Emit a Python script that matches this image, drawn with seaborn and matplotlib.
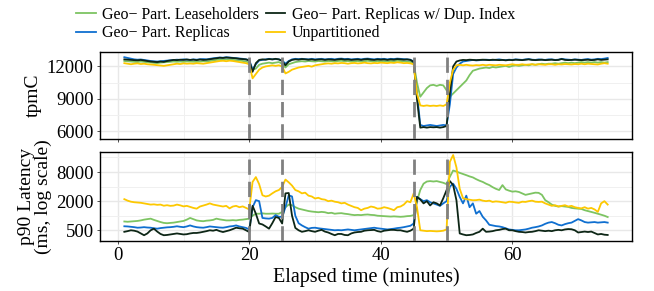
import numpy as np
import pandas as pd
import seaborn as sns
import matplotlib.pyplot as plt
from matplotlib.ticker import FixedLocator, NullFormatter

# --- series names and colours ---
setups = ["Geo\u2212 Part. Leaseholders", "Geo\u2212 Part. Replicas",
          "Geo\u2212 Part. Replicas w/ Dup. Index", "Unpartitioned"]
colors = ["#7dc462", "#0f6fd0", "#0d2616", "#fdc800"]

# --- elapsed time (minutes), one sample every 30 s ---
time_min = np.arange(1, 75, 0.5)

# --- throughput (tpmC) ---
tpmc_leaseholders = [
    12500, 12480, 12450, 12420, 12400, 12450, 12420, 12380, 12350, 12320,
    12300, 12350, 12380, 12400, 12420, 12450, 12430, 12450, 12420, 12460,
    12450, 12430, 12420, 12450, 12480, 12460, 12500, 12550, 12600, 12620,
    12600, 12650, 12620, 12600, 12580, 12550, 12500, 12450, 12350, 11700,
    11800, 12150, 12250, 12300, 12350, 12300, 12350, 12400, 12250, 11900,
    12200, 12300, 12400, 12450, 12480, 12450, 12500, 12480, 12450, 12500,
    12480, 12450, 12500, 12480, 12450, 12500, 12520, 12480, 12500, 12450,
    12480, 12500, 12450, 12480, 12520, 12480, 12450, 12500, 12480, 12500,
    12450, 12500, 12480, 12520, 12500, 12480, 12450, 12420, 12300, 10500,
    9200, 9600, 10000, 10250, 10300, 10200, 10300, 10250, 9800, 9200,
    9500, 9800, 10100, 10400, 10700, 11200, 11600, 11700, 11800, 11850,
    11900, 11850, 11950, 11900, 11950, 12000, 12050, 11950, 12050, 12100,
    12050, 12100, 12150, 12100, 12200, 12150, 12200, 12250, 12200, 12250,
    12250, 12300, 12250, 12300, 12350, 12300, 12350, 12300, 12350, 12400,
    12350, 12400, 12350, 12400, 12350, 12400, 12350, 12400]
tpmc_replicas = [
    12850, 12780, 12700, 12650, 12620, 12640, 12600, 12550, 12500, 12480,
    12450, 12480, 12500, 12550, 12580, 12600, 12620, 12600, 12650, 12620,
    12600, 12650, 12620, 12660, 12680, 12650, 12700, 12750, 12780, 12820,
    12800, 12850, 12820, 12780, 12760, 12720, 12700, 12650, 12580, 11700,
    12200, 12550, 12600, 12650, 12700, 12650, 12680, 12650, 12550, 12250,
    12500, 12650, 12700, 12680, 12700, 12680, 12650, 12700, 12650, 12680,
    12700, 12650, 12680, 12700, 12650, 12700, 12720, 12680, 12700, 12650,
    12680, 12700, 12650, 12700, 12720, 12680, 12650, 12700, 12680, 12700,
    12650, 12700, 12680, 12720, 12700, 12680, 12650, 12620, 12450, 9500,
    6600, 6500, 6550, 6600, 6550, 6500, 6550, 6600, 6550, 8500,
    11300, 11900, 12250, 12450, 12500, 12550, 12600, 12550, 12580, 12600,
    12620, 12600, 12580, 12620, 12650, 12600, 12580, 12620, 12600, 12650,
    12620, 12600, 12650, 12680, 12620, 12600, 12650, 12620, 12600, 12650,
    12650, 12600, 12620, 12700, 12650, 12620, 12600, 12650, 12620, 12600,
    12650, 12680, 12620, 12650, 12700, 12680, 12720, 12780]
tpmc_dup_index = [
    12650, 12620, 12600, 12580, 12560, 12600, 12550, 12500, 12450, 12420,
    12400, 12450, 12420, 12500, 12550, 12600, 12580, 12620, 12600, 12640,
    12600, 12620, 12580, 12640, 12600, 12620, 12660, 12700, 12750, 12800,
    12780, 12820, 12800, 12780, 12750, 12700, 12680, 12650, 12550, 11500,
    12300, 12600, 12650, 12620, 12680, 12650, 12700, 12650, 12500, 12100,
    12450, 12600, 12650, 12620, 12680, 12650, 12620, 12650, 12600, 12640,
    12650, 12600, 12650, 12620, 12600, 12650, 12680, 12620, 12650, 12600,
    12620, 12650, 12600, 12650, 12680, 12620, 12600, 12650, 12620, 12650,
    12600, 12650, 12620, 12680, 12650, 12620, 12650, 12600, 12400, 9000,
    6350, 6400, 6350, 6400, 6380, 6400, 6350, 6400, 6500, 9500,
    12000, 12450, 12550, 12600, 12580, 12620, 12600, 12580, 12600, 12620,
    12600, 12580, 12620, 12600, 12580, 12600, 12560, 12600, 12580, 12620,
    12600, 12580, 12620, 12650, 12600, 12580, 12600, 12620, 12580, 12600,
    12620, 12580, 12600, 12680, 12600, 12580, 12600, 12620, 12600, 12580,
    12600, 12620, 12580, 12600, 12650, 12600, 12620, 12650]
tpmc_unpartitioned = [
    12300, 12250, 12200, 12250, 12280, 12220, 12250, 12200, 12180, 12150,
    12120, 12080, 12050, 12100, 12150, 12200, 12250, 12220, 12280, 12250,
    12270, 12250, 12300, 12280, 12250, 12300, 12350, 12400, 12450, 12500,
    12520, 12480, 12530, 12500, 12450, 12400, 12350, 12300, 12200, 10900,
    11300, 11700, 11900, 12000, 12050, 12100, 12050, 12100, 12000, 11350,
    11500, 11700, 11800, 11900, 11950, 12000, 12050, 11980, 12100, 12150,
    12200, 12250, 12280, 12250, 12300, 12280, 12320, 12300, 12250, 12300,
    12320, 12280, 12300, 12350, 12300, 12280, 12320, 12300, 12350, 12320,
    12300, 12350, 12320, 12380, 12350, 12300, 12320, 12280, 12200, 9500,
    8400, 8350, 8400, 8350, 8380, 8350, 8400, 8350, 8500, 10500,
    11700, 12100, 12150, 12100, 12150, 12100, 12080, 12120, 12100, 12150,
    12100, 12150, 12120, 12100, 12150, 12120, 12100, 12150, 12200, 12150,
    12150, 12200, 12150, 12180, 12200, 12150, 12200, 12180, 12150, 12200,
    12200, 12150, 12200, 12180, 12220, 12200, 12180, 12220, 12200, 12250,
    12200, 12250, 12220, 12200, 12180, 12250, 12300, 12250]

# --- p90 latency (ms) ---
lat_leaseholders = [
    760, 750, 760, 770, 780, 800, 830, 850, 870, 820,
    780, 740, 710, 700, 710, 720, 740, 760, 780, 830,
    900, 850, 800, 780, 770, 790, 800, 820, 870, 840,
    820, 800, 800, 810, 800, 820, 830, 850, 870, 1000,
    1100, 1100, 1120, 1100, 1100, 1110, 1100, 1100, 1200, 1500,
    1700, 1650, 1500, 1400, 1350, 1300, 1250, 1220, 1200, 1180,
    1200, 1180, 1130, 1150, 1100, 1120, 1130, 1100, 1080, 1050,
    1030, 1040, 1030, 1050, 1060, 1040, 1030, 1000, 990, 980,
    970, 960, 970, 960, 950, 960, 980, 990, 1030, 2000,
    3400, 4600, 5100, 5200, 5100, 5200, 5000, 4800, 4500, 6400,
    8600, 8200, 7700, 7300, 6900, 6500, 6200, 5700, 5300, 5000,
    4600, 4300, 3900, 3600, 3400, 4300, 3500, 3300, 3150, 3200,
    3100, 2900, 2700, 2800, 2900, 3000, 2970, 2700, 2100, 1900,
    1700, 1600, 1550, 1580, 1550, 1520, 1450, 1420, 1400, 1380,
    1300, 1250, 1200, 1150, 1100, 1050, 1000, 940]
lat_replicas = [
    605, 600, 590, 580, 565, 570, 580, 570, 565, 550,
    540, 555, 565, 575, 580, 590, 605, 590, 580, 600,
    630, 600, 580, 570, 565, 580, 600, 590, 580, 570,
    565, 580, 600, 610, 630, 600, 580, 560, 520, 1500,
    2100, 2000, 900, 880, 870, 900, 1030, 950, 950, 1500,
    2650, 2500, 1000, 700, 630, 580, 540, 560, 565, 550,
    540, 530, 520, 510, 500, 505, 500, 510, 520, 510,
    500, 510, 520, 530, 540, 550, 565, 550, 540, 530,
    520, 530, 540, 555, 565, 580, 600, 620, 690, 2450,
    2200, 2000, 2100, 1900, 1800, 1700, 1600, 1800, 2000, 4000,
    4600, 3600, 2450, 1800, 2600, 1500, 1800, 1100, 1250, 950,
    800, 650, 630, 610, 600, 580, 550, 520, 510, 500,
    500, 510, 520, 540, 565, 580, 600, 630, 680, 720,
    740, 700, 650, 630, 670, 700, 720, 780, 850, 800,
    740, 720, 730, 740, 720, 730, 740, 720]
lat_dup_index = [
    465, 480, 500, 490, 470, 430, 395, 430, 500, 540,
    470, 420, 395, 400, 410, 420, 430, 420, 410, 415,
    430, 440, 440, 450, 465, 480, 500, 490, 510, 480,
    460, 480, 500, 530, 565, 550, 540, 500, 460, 1600,
    1100, 690, 660, 600, 540, 700, 940, 900, 690, 2900,
    2950, 1000, 560, 500, 465, 480, 500, 480, 465, 490,
    510, 470, 450, 420, 395, 420, 420, 400, 395, 430,
    450, 460, 465, 490, 500, 505, 510, 480, 465, 490,
    500, 510, 510, 500, 500, 480, 465, 490, 540, 2450,
    2170, 1800, 2000, 1630, 1900, 1800, 1630, 2300, 3370, 5200,
    4300, 2090, 430, 410, 395, 400, 410, 440, 465, 540,
    465, 470, 480, 500, 510, 530, 540, 500, 500, 480,
    465, 460, 450, 460, 465, 480, 500, 490, 480, 490,
    480, 500, 510, 500, 520, 530, 525, 500, 450, 460,
    470, 460, 470, 440, 410, 420, 405, 400]
lat_unpartitioned = [
    2200, 2050, 1950, 1900, 1870, 1850, 1800, 1750, 1700, 1720,
    1680, 1700, 1610, 1650, 1600, 1620, 1700, 1640, 1560, 1600,
    1520, 1450, 1400, 1550, 1620, 1700, 1800, 1700, 1650, 1600,
    1550, 1600, 1420, 1550, 1600, 1500, 1560, 1450, 1350, 5000,
    6300, 4500, 2650, 2500, 2600, 2900, 3200, 3400, 3950, 5600,
    4900, 4200, 3400, 3200, 2900, 3000, 2600, 2500, 2270, 2350,
    2200, 2150, 2000, 2050, 1950, 1900, 1800, 1850, 1700, 1600,
    1500, 1450, 1300, 1400, 1450, 1550, 1500, 1400, 1420, 1500,
    1450, 1380, 1300, 1500, 1550, 1700, 2000, 1900, 2900, 1500,
    500, 490, 480, 485, 480, 475, 480, 490, 520, 13000,
    18000, 10000, 3600, 2300, 2200, 2150, 2090, 2100, 2150, 2050,
    2000, 2050, 1930, 1980, 1950, 1900, 1850, 1950, 1930, 1880,
    1850, 1950, 1930, 2000, 2050, 1950, 1930, 1950, 1800, 1700,
    1600, 1650, 1550, 1600, 1650, 1550, 1600, 1500, 1450, 1420,
    1500, 1400, 1450, 1350, 1200, 1800, 2000, 1700]

# --- fault injection / recovery moments (minutes) ---
events = [20, 25, 45, 50]

# --- long table for seaborn ---
tpmc = [tpmc_leaseholders, tpmc_replicas, tpmc_dup_index, tpmc_unpartitioned]
lat = [lat_leaseholders, lat_replicas, lat_dup_index, lat_unpartitioned]
frames = []
for name, tp, la in zip(setups, tpmc, lat):
    frames.append(pd.DataFrame({"time": time_min, "tpmC": tp,
                                "latency": la, "setup": name}))
df = pd.concat(frames, ignore_index=True)

plt.rcParams["font.family"] = ["Liberation Serif", "DejaVu Serif"]
plt.rcParams["font.size"] = 12

fig = plt.figure(figsize=(6.54, 2.91), dpi=100)
ax1 = fig.add_axes([0.1529, 0.5223, 0.8135, 0.2990])
ax2 = fig.add_axes([0.1529, 0.1718, 0.8135, 0.3059])

palette = dict(zip(setups, colors))
sns.lineplot(data=df, x="time", y="tpmC", hue="setup", hue_order=setups,
             palette=palette, linewidth=1.3, ax=ax1)
sns.lineplot(data=df, x="time", y="latency", hue="setup", hue_order=setups,
             palette=palette, linewidth=1.3, ax=ax2, legend=False)

for ax in (ax1, ax2):
    for ev in events:
        ax.axvline(ev, color="#808080", lw=2, ls=(0, (5.5, 2.5)), zorder=5)
    ax.set_xlim(-2.7, 78.2)
    ax.set_xticks([0, 20, 40, 60])
    ax.set_xticks([10, 30, 50, 70], minor=True)
    ax.grid(which="major", color="#e8e8e8", lw=1.0)
    ax.grid(which="minor", color="#f0f0f0", lw=0.7)
    ax.set_axisbelow(True)
    ax.tick_params(which="major", length=2.5, color="#333333", width=0.6,
                   labelsize=13.5, pad=2)
    ax.tick_params(which="minor", length=0)
    for sp in ax.spines.values():
        sp.set_color("black")
        sp.set_linewidth(1.0)

ax1.set_ylim(5300, 13330)
ax1.set_yticks([6000, 9000, 12000])
ax1.set_yticks([7500, 10500], minor=True)
ax1.tick_params(axis="x", labelbottom=False)
ax1.set_xlabel("")
ax1.set_ylabel("tpmC", fontsize=14, labelpad=4)

ax2.set_yscale("log")
ax2.set_ylim(300, 20800)
ax2.yaxis.set_major_locator(FixedLocator([500, 2000, 8000]))
ax2.set_yticklabels(["500", "2000", "8000"])
ax2.yaxis.set_minor_locator(FixedLocator([1000, 4000, 16000]))
ax2.yaxis.set_minor_formatter(NullFormatter())
ax2.set_xlabel("Elapsed time (minutes)", fontsize=14.5, labelpad=2)
ax2.set_ylabel("p90 Latency\n(ms, log scale)", fontsize=14, labelpad=3,
               linespacing=0.95)

sns.move_legend(ax1, "upper center", bbox_to_anchor=(0.452, 1.012),
                bbox_transform=fig.transFigure, ncol=2, title=None,
                frameon=False, fontsize=11.5, handlelength=1.2,
                handletextpad=0.4, columnspacing=0.45, labelspacing=0.15,
                borderpad=0.15)

fig.savefig("out.png", dpi=100)
